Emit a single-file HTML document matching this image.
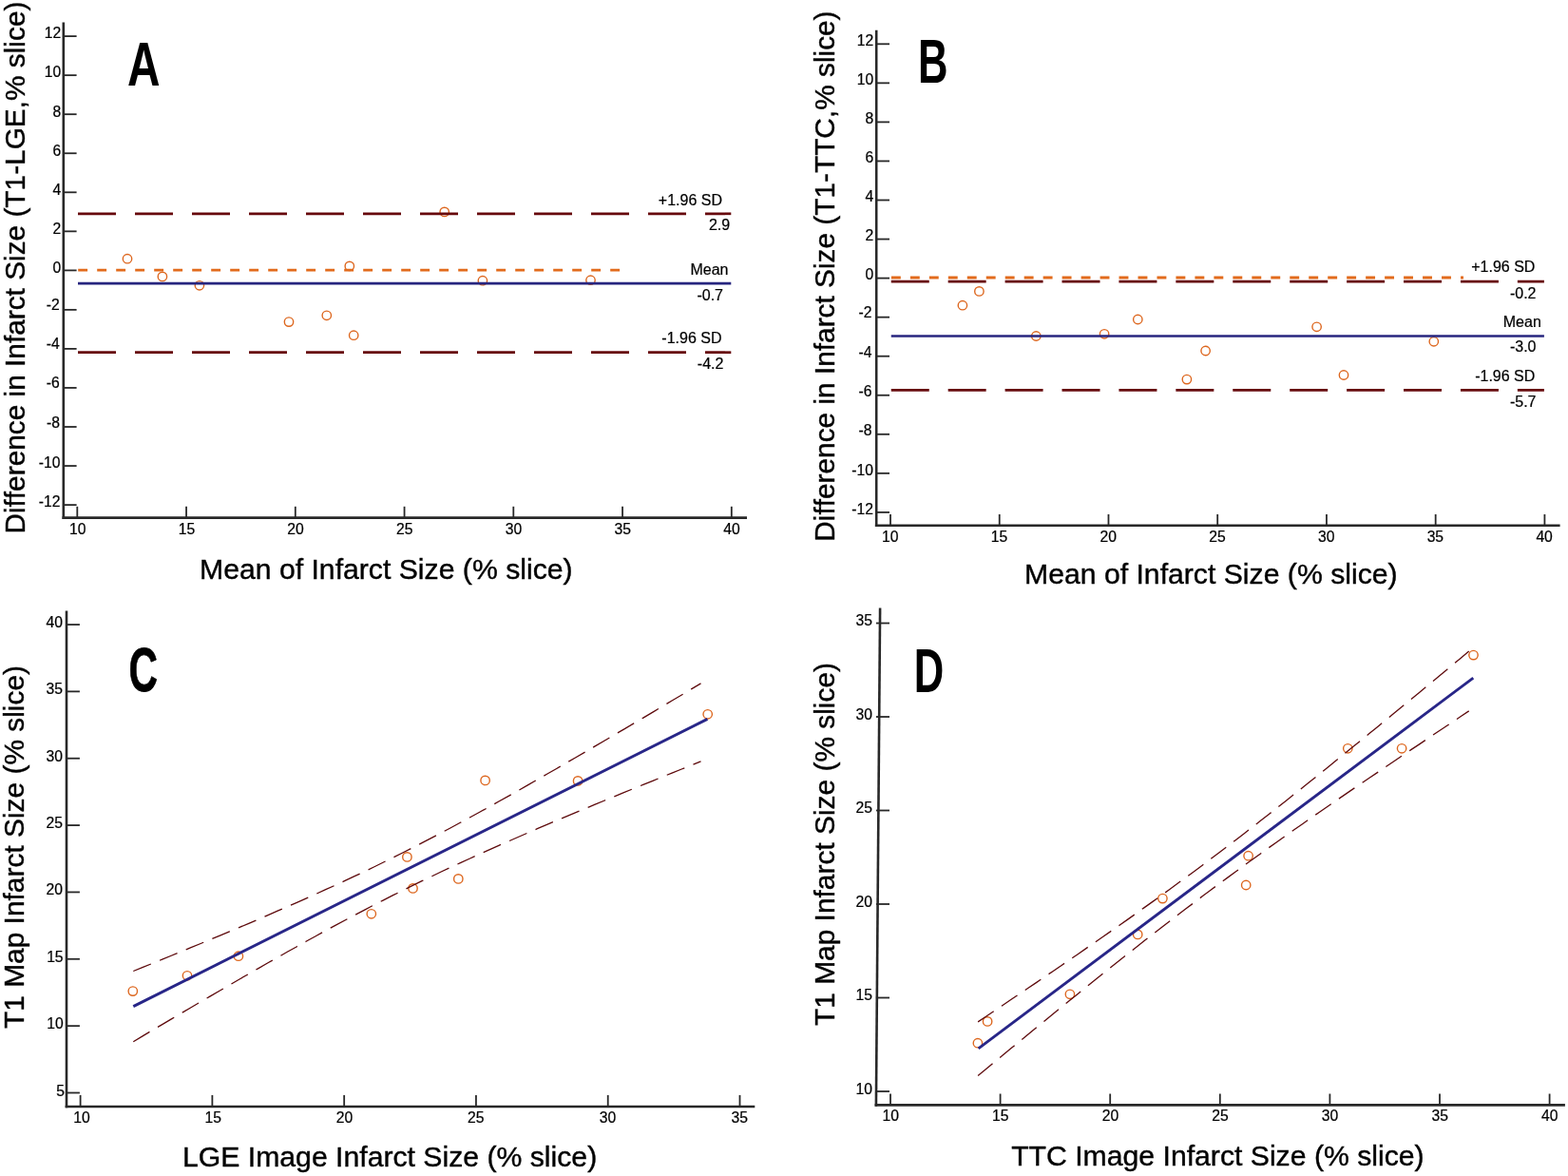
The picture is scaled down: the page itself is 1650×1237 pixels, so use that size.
<!DOCTYPE html>
<html lang="en">
<head>
<meta charset="utf-8">
<title>Infarct size agreement: Bland-Altman and regression plots</title>
<style>
html,body{margin:0;padding:0;background:#fff;}
body{width:1650px;height:1237px;overflow:hidden;}
svg{display:block;font-family:"Liberation Sans",Arial,Helvetica,sans-serif;font-variant-ligatures:none;font-kerning:none;}
</style>
</head>
<body>
<svg width="1650" height="1237" viewBox="0 0 1650 1237">
<rect x="0" y="0" width="1650" height="1237" fill="#fff"/>
<g>
<line x1="66.80" y1="23.60" x2="66.80" y2="545.90" stroke="#282828" stroke-width="2.6" stroke-linecap="butt"/>
<line x1="65.50" y1="544.60" x2="786.00" y2="544.60" stroke="#282828" stroke-width="2.6" stroke-linecap="butt"/>
<line x1="66.80" y1="38.10" x2="80.60" y2="38.10" stroke="#282828" stroke-width="1.8" stroke-linecap="butt"/>
<text x="64.20" y="40.00" font-size="15.7" text-anchor="end" font-weight="normal" fill="#000" stroke="#000" stroke-width="0.22">12</text>
<line x1="66.80" y1="79.15" x2="80.60" y2="79.15" stroke="#282828" stroke-width="1.8" stroke-linecap="butt"/>
<text x="64.20" y="81.05" font-size="15.7" text-anchor="end" font-weight="normal" fill="#000" stroke="#000" stroke-width="0.22">10</text>
<line x1="66.80" y1="120.20" x2="80.60" y2="120.20" stroke="#282828" stroke-width="1.8" stroke-linecap="butt"/>
<text x="64.20" y="122.50" font-size="15.7" text-anchor="end" font-weight="normal" fill="#000" stroke="#000" stroke-width="0.22">8</text>
<line x1="66.80" y1="161.25" x2="80.60" y2="161.25" stroke="#282828" stroke-width="1.8" stroke-linecap="butt"/>
<text x="64.20" y="163.55" font-size="15.7" text-anchor="end" font-weight="normal" fill="#000" stroke="#000" stroke-width="0.22">6</text>
<line x1="66.80" y1="202.30" x2="80.60" y2="202.30" stroke="#282828" stroke-width="1.8" stroke-linecap="butt"/>
<text x="64.20" y="204.60" font-size="15.7" text-anchor="end" font-weight="normal" fill="#000" stroke="#000" stroke-width="0.22">4</text>
<line x1="66.80" y1="243.35" x2="80.60" y2="243.35" stroke="#282828" stroke-width="1.8" stroke-linecap="butt"/>
<text x="64.20" y="245.65" font-size="15.7" text-anchor="end" font-weight="normal" fill="#000" stroke="#000" stroke-width="0.22">2</text>
<line x1="66.80" y1="284.40" x2="80.60" y2="284.40" stroke="#282828" stroke-width="1.8" stroke-linecap="butt"/>
<text x="64.20" y="286.70" font-size="15.7" text-anchor="end" font-weight="normal" fill="#000" stroke="#000" stroke-width="0.22">0</text>
<line x1="66.80" y1="325.85" x2="80.60" y2="325.85" stroke="#282828" stroke-width="1.8" stroke-linecap="butt"/>
<text x="62.80" y="326.35" font-size="15.7" text-anchor="end" font-weight="normal" fill="#000" stroke="#000" stroke-width="0.22">-2</text>
<line x1="66.80" y1="366.90" x2="80.60" y2="366.90" stroke="#282828" stroke-width="1.8" stroke-linecap="butt"/>
<text x="62.80" y="367.40" font-size="15.7" text-anchor="end" font-weight="normal" fill="#000" stroke="#000" stroke-width="0.22">-4</text>
<line x1="66.80" y1="407.95" x2="80.60" y2="407.95" stroke="#282828" stroke-width="1.8" stroke-linecap="butt"/>
<text x="62.80" y="408.45" font-size="15.7" text-anchor="end" font-weight="normal" fill="#000" stroke="#000" stroke-width="0.22">-6</text>
<line x1="66.80" y1="449.00" x2="80.60" y2="449.00" stroke="#282828" stroke-width="1.8" stroke-linecap="butt"/>
<text x="62.90" y="449.50" font-size="15.7" text-anchor="end" font-weight="normal" fill="#000" stroke="#000" stroke-width="0.22">-8</text>
<line x1="66.80" y1="490.05" x2="80.60" y2="490.05" stroke="#282828" stroke-width="1.8" stroke-linecap="butt"/>
<text x="63.50" y="492.05" font-size="15.7" text-anchor="end" font-weight="normal" fill="#000" stroke="#000" stroke-width="0.22">-10</text>
<line x1="66.80" y1="531.10" x2="80.60" y2="531.10" stroke="#282828" stroke-width="1.8" stroke-linecap="butt"/>
<text x="63.50" y="533.10" font-size="15.7" text-anchor="end" font-weight="normal" fill="#000" stroke="#000" stroke-width="0.22">-12</text>
<line x1="81.30" y1="532.80" x2="81.30" y2="544.60" stroke="#282828" stroke-width="1.8" stroke-linecap="butt"/>
<text x="81.70" y="561.50" font-size="15.7" text-anchor="middle" font-weight="normal" fill="#000" stroke="#000" stroke-width="0.22">10</text>
<line x1="196.05" y1="532.80" x2="196.05" y2="544.60" stroke="#282828" stroke-width="1.8" stroke-linecap="butt"/>
<text x="196.45" y="561.50" font-size="15.7" text-anchor="middle" font-weight="normal" fill="#000" stroke="#000" stroke-width="0.22">15</text>
<line x1="310.80" y1="532.80" x2="310.80" y2="544.60" stroke="#282828" stroke-width="1.8" stroke-linecap="butt"/>
<text x="310.90" y="561.50" font-size="15.7" text-anchor="middle" font-weight="normal" fill="#000" stroke="#000" stroke-width="0.22">20</text>
<line x1="425.55" y1="532.80" x2="425.55" y2="544.60" stroke="#282828" stroke-width="1.8" stroke-linecap="butt"/>
<text x="425.65" y="561.50" font-size="15.7" text-anchor="middle" font-weight="normal" fill="#000" stroke="#000" stroke-width="0.22">25</text>
<line x1="540.30" y1="532.80" x2="540.30" y2="544.60" stroke="#282828" stroke-width="1.8" stroke-linecap="butt"/>
<text x="540.40" y="561.50" font-size="15.7" text-anchor="middle" font-weight="normal" fill="#000" stroke="#000" stroke-width="0.22">30</text>
<line x1="655.05" y1="532.80" x2="655.05" y2="544.60" stroke="#282828" stroke-width="1.8" stroke-linecap="butt"/>
<text x="655.15" y="561.50" font-size="15.7" text-anchor="middle" font-weight="normal" fill="#000" stroke="#000" stroke-width="0.22">35</text>
<line x1="769.80" y1="532.80" x2="769.80" y2="544.60" stroke="#282828" stroke-width="1.8" stroke-linecap="butt"/>
<text x="769.90" y="561.50" font-size="15.7" text-anchor="middle" font-weight="normal" fill="#000" stroke="#000" stroke-width="0.22">40</text>
<text x="406.30" y="608.90" font-size="30.2" text-anchor="middle" font-weight="normal" fill="#000" stroke="#000" stroke-width="0.4">Mean of Infarct Size (% slice)</text>
<text x="0.00" y="0.00" font-size="29.82" text-anchor="middle" font-weight="normal" fill="#000" transform="translate(25.50,281.60) rotate(-90)" stroke="#000" stroke-width="0.4">Difference in Infarct Size (T1-LGE,% slice)</text>
<text x="0" y="0" font-size="65.0" font-weight="bold" fill="#000" transform="translate(133.90,89.90) scale(0.735,1)">A</text>
<circle cx="134.0" cy="272.2" r="4.7" fill="none" stroke="#dd671f" stroke-width="1.4"/>
<circle cx="170.9" cy="290.9" r="4.7" fill="none" stroke="#dd671f" stroke-width="1.4"/>
<circle cx="209.9" cy="300.3" r="4.7" fill="none" stroke="#dd671f" stroke-width="1.4"/>
<circle cx="304.0" cy="338.6" r="4.7" fill="none" stroke="#dd671f" stroke-width="1.4"/>
<circle cx="343.8" cy="331.8" r="4.7" fill="none" stroke="#dd671f" stroke-width="1.4"/>
<circle cx="367.8" cy="279.9" r="4.7" fill="none" stroke="#dd671f" stroke-width="1.4"/>
<circle cx="372.2" cy="352.7" r="4.7" fill="none" stroke="#dd671f" stroke-width="1.4"/>
<circle cx="467.7" cy="222.9" r="4.7" fill="none" stroke="#dd671f" stroke-width="1.4"/>
<circle cx="507.9" cy="295.2" r="4.7" fill="none" stroke="#dd671f" stroke-width="1.4"/>
<circle cx="621.5" cy="294.7" r="4.7" fill="none" stroke="#dd671f" stroke-width="1.4"/>
<line x1="82.20" y1="284.10" x2="652.20" y2="284.10" stroke="#e26b1c" stroke-width="2.9" stroke-dasharray="9.9 10.1" stroke-linecap="butt"/>
<line x1="82.00" y1="224.80" x2="769.30" y2="224.80" stroke="#670a0d" stroke-width="2.7" stroke-dasharray="40 20" stroke-linecap="butt"/>
<line x1="82.00" y1="370.70" x2="769.30" y2="370.70" stroke="#670a0d" stroke-width="2.7" stroke-dasharray="40 20" stroke-linecap="butt"/>
<line x1="82.00" y1="298.20" x2="769.30" y2="298.20" stroke="#27257f" stroke-width="2.7" stroke-linecap="butt"/>
<text x="760.00" y="215.60" font-size="16.0" text-anchor="end" font-weight="normal" fill="#000" stroke="#000" stroke-width="0.22">+1.96 SD</text>
<text x="768.20" y="242.00" font-size="16.0" text-anchor="end" font-weight="normal" fill="#000" stroke="#000" stroke-width="0.22">2.9</text>
<text x="766.50" y="288.90" font-size="16.0" text-anchor="end" font-weight="normal" fill="#000" stroke="#000" stroke-width="0.22">Mean</text>
<text x="761.00" y="315.80" font-size="16.0" text-anchor="end" font-weight="normal" fill="#000" stroke="#000" stroke-width="0.22">-0.7</text>
<text x="759.50" y="361.20" font-size="16.0" text-anchor="end" font-weight="normal" fill="#000" stroke="#000" stroke-width="0.22">-1.96 SD</text>
<text x="761.40" y="387.90" font-size="16.0" text-anchor="end" font-weight="normal" fill="#000" stroke="#000" stroke-width="0.22">-4.2</text>
</g><g>
<line x1="922.20" y1="31.80" x2="922.20" y2="554.10" stroke="#282828" stroke-width="2.6" stroke-linecap="butt"/>
<line x1="920.90" y1="552.80" x2="1641.60" y2="552.80" stroke="#282828" stroke-width="2.6" stroke-linecap="butt"/>
<line x1="922.20" y1="46.30" x2="936.00" y2="46.30" stroke="#282828" stroke-width="1.8" stroke-linecap="butt"/>
<text x="919.30" y="48.30" font-size="15.7" text-anchor="end" font-weight="normal" fill="#000" stroke="#000" stroke-width="0.22">12</text>
<line x1="922.20" y1="87.35" x2="936.00" y2="87.35" stroke="#282828" stroke-width="1.8" stroke-linecap="butt"/>
<text x="919.30" y="89.35" font-size="15.7" text-anchor="end" font-weight="normal" fill="#000" stroke="#000" stroke-width="0.22">10</text>
<line x1="922.20" y1="128.40" x2="936.00" y2="128.40" stroke="#282828" stroke-width="1.8" stroke-linecap="butt"/>
<text x="919.30" y="130.40" font-size="15.7" text-anchor="end" font-weight="normal" fill="#000" stroke="#000" stroke-width="0.22">8</text>
<line x1="922.20" y1="169.45" x2="936.00" y2="169.45" stroke="#282828" stroke-width="1.8" stroke-linecap="butt"/>
<text x="919.30" y="171.45" font-size="15.7" text-anchor="end" font-weight="normal" fill="#000" stroke="#000" stroke-width="0.22">6</text>
<line x1="922.20" y1="210.50" x2="936.00" y2="210.50" stroke="#282828" stroke-width="1.8" stroke-linecap="butt"/>
<text x="919.30" y="212.20" font-size="15.7" text-anchor="end" font-weight="normal" fill="#000" stroke="#000" stroke-width="0.22">4</text>
<line x1="922.20" y1="251.55" x2="936.00" y2="251.55" stroke="#282828" stroke-width="1.8" stroke-linecap="butt"/>
<text x="919.30" y="253.25" font-size="15.7" text-anchor="end" font-weight="normal" fill="#000" stroke="#000" stroke-width="0.22">2</text>
<line x1="922.20" y1="292.60" x2="936.00" y2="292.60" stroke="#282828" stroke-width="1.8" stroke-linecap="butt"/>
<text x="919.30" y="294.30" font-size="15.7" text-anchor="end" font-weight="normal" fill="#000" stroke="#000" stroke-width="0.22">0</text>
<line x1="922.20" y1="333.65" x2="936.00" y2="333.65" stroke="#282828" stroke-width="1.8" stroke-linecap="butt"/>
<text x="917.40" y="334.45" font-size="15.7" text-anchor="end" font-weight="normal" fill="#000" stroke="#000" stroke-width="0.22">-2</text>
<line x1="922.20" y1="374.70" x2="936.00" y2="374.70" stroke="#282828" stroke-width="1.8" stroke-linecap="butt"/>
<text x="917.40" y="375.50" font-size="15.7" text-anchor="end" font-weight="normal" fill="#000" stroke="#000" stroke-width="0.22">-4</text>
<line x1="922.20" y1="415.75" x2="936.00" y2="415.75" stroke="#282828" stroke-width="1.8" stroke-linecap="butt"/>
<text x="917.40" y="416.55" font-size="15.7" text-anchor="end" font-weight="normal" fill="#000" stroke="#000" stroke-width="0.22">-6</text>
<line x1="922.20" y1="456.80" x2="936.00" y2="456.80" stroke="#282828" stroke-width="1.8" stroke-linecap="butt"/>
<text x="917.40" y="457.60" font-size="15.7" text-anchor="end" font-weight="normal" fill="#000" stroke="#000" stroke-width="0.22">-8</text>
<line x1="922.20" y1="497.85" x2="936.00" y2="497.85" stroke="#282828" stroke-width="1.8" stroke-linecap="butt"/>
<text x="918.90" y="499.85" font-size="15.7" text-anchor="end" font-weight="normal" fill="#000" stroke="#000" stroke-width="0.22">-10</text>
<line x1="922.20" y1="538.90" x2="936.00" y2="538.90" stroke="#282828" stroke-width="1.8" stroke-linecap="butt"/>
<text x="918.90" y="540.90" font-size="15.7" text-anchor="end" font-weight="normal" fill="#000" stroke="#000" stroke-width="0.22">-12</text>
<line x1="937.00" y1="541.00" x2="937.00" y2="552.80" stroke="#282828" stroke-width="1.8" stroke-linecap="butt"/>
<text x="936.70" y="569.90" font-size="15.7" text-anchor="middle" font-weight="normal" fill="#000" stroke="#000" stroke-width="0.22">10</text>
<line x1="1051.73" y1="541.00" x2="1051.73" y2="552.80" stroke="#282828" stroke-width="1.8" stroke-linecap="butt"/>
<text x="1051.43" y="569.90" font-size="15.7" text-anchor="middle" font-weight="normal" fill="#000" stroke="#000" stroke-width="0.22">15</text>
<line x1="1166.47" y1="541.00" x2="1166.47" y2="552.80" stroke="#282828" stroke-width="1.8" stroke-linecap="butt"/>
<text x="1166.17" y="569.90" font-size="15.7" text-anchor="middle" font-weight="normal" fill="#000" stroke="#000" stroke-width="0.22">20</text>
<line x1="1281.20" y1="541.00" x2="1281.20" y2="552.80" stroke="#282828" stroke-width="1.8" stroke-linecap="butt"/>
<text x="1280.90" y="569.90" font-size="15.7" text-anchor="middle" font-weight="normal" fill="#000" stroke="#000" stroke-width="0.22">25</text>
<line x1="1395.94" y1="541.00" x2="1395.94" y2="552.80" stroke="#282828" stroke-width="1.8" stroke-linecap="butt"/>
<text x="1395.64" y="569.90" font-size="15.7" text-anchor="middle" font-weight="normal" fill="#000" stroke="#000" stroke-width="0.22">30</text>
<line x1="1510.67" y1="541.00" x2="1510.67" y2="552.80" stroke="#282828" stroke-width="1.8" stroke-linecap="butt"/>
<text x="1510.38" y="569.90" font-size="15.7" text-anchor="middle" font-weight="normal" fill="#000" stroke="#000" stroke-width="0.22">35</text>
<line x1="1625.41" y1="541.00" x2="1625.41" y2="552.80" stroke="#282828" stroke-width="1.8" stroke-linecap="butt"/>
<text x="1625.11" y="569.90" font-size="15.7" text-anchor="middle" font-weight="normal" fill="#000" stroke="#000" stroke-width="0.22">40</text>
<text x="1274.30" y="613.70" font-size="30.2" text-anchor="middle" font-weight="normal" fill="#000" stroke="#000" stroke-width="0.4">Mean of Infarct Size (% slice)</text>
<text x="0.00" y="0.00" font-size="29.82" text-anchor="middle" font-weight="normal" fill="#000" transform="translate(878.20,290.60) rotate(-90)" stroke="#000" stroke-width="0.4">Difference in Infarct Size (T1-TTC,% slice)</text>
<text x="0" y="0" font-size="64.8" font-weight="bold" fill="#000" transform="translate(965.90,86.90) scale(0.673,1)">B</text>
<circle cx="1012.9" cy="321.2" r="4.7" fill="none" stroke="#dd671f" stroke-width="1.4"/>
<circle cx="1030.4" cy="306.4" r="4.7" fill="none" stroke="#dd671f" stroke-width="1.4"/>
<circle cx="1090.3" cy="353.5" r="4.7" fill="none" stroke="#dd671f" stroke-width="1.4"/>
<circle cx="1162.1" cy="351.3" r="4.7" fill="none" stroke="#dd671f" stroke-width="1.4"/>
<circle cx="1197.3" cy="336.0" r="4.7" fill="none" stroke="#dd671f" stroke-width="1.4"/>
<circle cx="1248.9" cy="399.1" r="4.7" fill="none" stroke="#dd671f" stroke-width="1.4"/>
<circle cx="1268.6" cy="369.0" r="4.7" fill="none" stroke="#dd671f" stroke-width="1.4"/>
<circle cx="1385.6" cy="343.8" r="4.7" fill="none" stroke="#dd671f" stroke-width="1.4"/>
<circle cx="1414.0" cy="394.5" r="4.7" fill="none" stroke="#dd671f" stroke-width="1.4"/>
<circle cx="1508.8" cy="359.3" r="4.7" fill="none" stroke="#dd671f" stroke-width="1.4"/>
<line x1="937.90" y1="292.00" x2="1540.00" y2="292.00" stroke="#e26b1c" stroke-width="2.9" stroke-dasharray="9.9 10.07" stroke-linecap="butt"/>
<line x1="937.75" y1="296.20" x2="1624.90" y2="296.20" stroke="#670a0d" stroke-width="2.7" stroke-dasharray="40 19.92" stroke-linecap="butt"/>
<line x1="937.75" y1="410.40" x2="1624.90" y2="410.40" stroke="#670a0d" stroke-width="2.7" stroke-dasharray="40 19.92" stroke-linecap="butt"/>
<line x1="937.75" y1="353.50" x2="1624.90" y2="353.50" stroke="#27257f" stroke-width="2.7" stroke-linecap="butt"/>
<text x="1615.40" y="286.10" font-size="16.0" text-anchor="end" font-weight="normal" fill="#000" stroke="#000" stroke-width="0.22">+1.96 SD</text>
<text x="1616.50" y="313.70" font-size="16.0" text-anchor="end" font-weight="normal" fill="#000" stroke="#000" stroke-width="0.22">-0.2</text>
<text x="1621.80" y="343.50" font-size="16.0" text-anchor="end" font-weight="normal" fill="#000" stroke="#000" stroke-width="0.22">Mean</text>
<text x="1616.50" y="370.20" font-size="16.0" text-anchor="end" font-weight="normal" fill="#000" stroke="#000" stroke-width="0.22">-3.0</text>
<text x="1615.30" y="401.00" font-size="16.0" text-anchor="end" font-weight="normal" fill="#000" stroke="#000" stroke-width="0.22">-1.96 SD</text>
<text x="1616.50" y="428.00" font-size="16.0" text-anchor="end" font-weight="normal" fill="#000" stroke="#000" stroke-width="0.22">-5.7</text>
</g>
<g>
<line x1="70.00" y1="642.40" x2="70.00" y2="1165.30" stroke="#282828" stroke-width="2.6" stroke-linecap="butt"/>
<line x1="68.70" y1="1164.00" x2="794.30" y2="1164.00" stroke="#282828" stroke-width="2.6" stroke-linecap="butt"/>
<line x1="70.00" y1="657.01" x2="83.90" y2="657.01" stroke="#282828" stroke-width="1.8" stroke-linecap="butt"/>
<text x="65.90" y="659.91" font-size="15.7" text-anchor="end" font-weight="normal" fill="#000" stroke="#000" stroke-width="0.22">40</text>
<line x1="70.00" y1="727.37" x2="83.90" y2="727.37" stroke="#282828" stroke-width="1.8" stroke-linecap="butt"/>
<text x="65.90" y="730.27" font-size="15.7" text-anchor="end" font-weight="normal" fill="#000" stroke="#000" stroke-width="0.22">35</text>
<line x1="70.00" y1="797.73" x2="83.90" y2="797.73" stroke="#282828" stroke-width="1.8" stroke-linecap="butt"/>
<text x="65.90" y="800.62" font-size="15.7" text-anchor="end" font-weight="normal" fill="#000" stroke="#000" stroke-width="0.22">30</text>
<line x1="70.00" y1="868.08" x2="83.90" y2="868.08" stroke="#282828" stroke-width="1.8" stroke-linecap="butt"/>
<text x="65.90" y="870.98" font-size="15.7" text-anchor="end" font-weight="normal" fill="#000" stroke="#000" stroke-width="0.22">25</text>
<line x1="70.00" y1="938.43" x2="83.90" y2="938.43" stroke="#282828" stroke-width="1.8" stroke-linecap="butt"/>
<text x="65.90" y="941.33" font-size="15.7" text-anchor="end" font-weight="normal" fill="#000" stroke="#000" stroke-width="0.22">20</text>
<line x1="70.00" y1="1008.79" x2="83.90" y2="1008.79" stroke="#282828" stroke-width="1.8" stroke-linecap="butt"/>
<text x="66.60" y="1011.69" font-size="15.7" text-anchor="end" font-weight="normal" fill="#000" stroke="#000" stroke-width="0.22">15</text>
<line x1="70.00" y1="1079.14" x2="83.90" y2="1079.14" stroke="#282828" stroke-width="1.8" stroke-linecap="butt"/>
<text x="66.70" y="1082.05" font-size="15.7" text-anchor="end" font-weight="normal" fill="#000" stroke="#000" stroke-width="0.22">10</text>
<line x1="70.00" y1="1149.50" x2="83.90" y2="1149.50" stroke="#282828" stroke-width="1.8" stroke-linecap="butt"/>
<text x="67.90" y="1152.90" font-size="15.7" text-anchor="end" font-weight="normal" fill="#000" stroke="#000" stroke-width="0.22">5</text>
<line x1="84.60" y1="1151.90" x2="84.60" y2="1164.00" stroke="#282828" stroke-width="1.8" stroke-linecap="butt"/>
<text x="85.90" y="1180.90" font-size="15.7" text-anchor="middle" font-weight="normal" fill="#000" stroke="#000" stroke-width="0.22">10</text>
<line x1="223.38" y1="1151.90" x2="223.38" y2="1164.00" stroke="#282828" stroke-width="1.8" stroke-linecap="butt"/>
<text x="224.18" y="1180.90" font-size="15.7" text-anchor="middle" font-weight="normal" fill="#000" stroke="#000" stroke-width="0.22">15</text>
<line x1="362.16" y1="1151.90" x2="362.16" y2="1164.00" stroke="#282828" stroke-width="1.8" stroke-linecap="butt"/>
<text x="362.46" y="1180.90" font-size="15.7" text-anchor="middle" font-weight="normal" fill="#000" stroke="#000" stroke-width="0.22">20</text>
<line x1="500.94" y1="1151.90" x2="500.94" y2="1164.00" stroke="#282828" stroke-width="1.8" stroke-linecap="butt"/>
<text x="500.74" y="1180.90" font-size="15.7" text-anchor="middle" font-weight="normal" fill="#000" stroke="#000" stroke-width="0.22">25</text>
<line x1="639.72" y1="1151.90" x2="639.72" y2="1164.00" stroke="#282828" stroke-width="1.8" stroke-linecap="butt"/>
<text x="639.52" y="1180.90" font-size="15.7" text-anchor="middle" font-weight="normal" fill="#000" stroke="#000" stroke-width="0.22">30</text>
<line x1="778.50" y1="1151.90" x2="778.50" y2="1164.00" stroke="#282828" stroke-width="1.8" stroke-linecap="butt"/>
<text x="778.30" y="1180.90" font-size="15.7" text-anchor="middle" font-weight="normal" fill="#000" stroke="#000" stroke-width="0.22">35</text>
<text x="410.10" y="1227.30" font-size="30.2" text-anchor="middle" font-weight="normal" fill="#000" stroke="#000" stroke-width="0.4">LGE Image Infarct Size (% slice)</text>
<text x="0.00" y="0.00" font-size="29.9" text-anchor="middle" font-weight="normal" fill="#000" transform="translate(25.30,891.00) rotate(-90)" stroke="#000" stroke-width="0.4">T1 Map Infarct Size (% slice)</text>
<text x="0" y="0" font-size="64.4" font-weight="bold" fill="#000" stroke="#000" stroke-width="0.76" stroke-linejoin="round" transform="translate(135.40,726.80) scale(0.655,1)">C</text>
<circle cx="139.8" cy="1042.6" r="4.7" fill="none" stroke="#dd671f" stroke-width="1.4"/>
<circle cx="197.0" cy="1026.3" r="4.7" fill="none" stroke="#dd671f" stroke-width="1.4"/>
<circle cx="250.9" cy="1005.7" r="4.7" fill="none" stroke="#dd671f" stroke-width="1.4"/>
<circle cx="390.8" cy="961.3" r="4.7" fill="none" stroke="#dd671f" stroke-width="1.4"/>
<circle cx="428.4" cy="901.4" r="4.7" fill="none" stroke="#dd671f" stroke-width="1.4"/>
<circle cx="434.5" cy="934.4" r="4.7" fill="none" stroke="#dd671f" stroke-width="1.4"/>
<circle cx="482.3" cy="924.4" r="4.7" fill="none" stroke="#dd671f" stroke-width="1.4"/>
<circle cx="510.6" cy="820.9" r="4.7" fill="none" stroke="#dd671f" stroke-width="1.4"/>
<circle cx="608.1" cy="821.4" r="4.7" fill="none" stroke="#dd671f" stroke-width="1.4"/>
<circle cx="744.7" cy="751.3" r="4.7" fill="none" stroke="#dd671f" stroke-width="1.4"/>
<path d="M140.3,1021.5 L150.4,1017.4 L160.5,1013.3 L170.7,1009.2 L180.8,1005.0 L190.9,1000.9 L201.0,996.7 L211.2,992.5 L221.3,988.3 L231.4,984.1 L241.5,979.9 L251.6,975.6 L261.8,971.3 L271.9,967.0 L282.0,962.6 L292.1,958.2 L302.3,953.8 L312.4,949.4 L322.5,944.9 L332.6,940.3 L342.7,935.7 L352.9,931.1 L363.0,926.4 L373.1,921.7 L383.2,916.9 L393.4,912.0 L403.5,907.0 L413.6,902.0 L423.7,897.0 L433.8,891.9 L444.0,886.7 L454.1,881.4 L464.2,876.1 L474.3,870.7 L484.4,865.3 L494.6,859.8 L504.7,854.3 L514.8,848.7 L524.9,843.0 L535.1,837.4 L545.2,831.7 L555.3,825.9 L565.4,820.1 L575.5,814.3 L585.7,808.5 L595.8,802.6 L605.9,796.8 L616.0,790.9 L626.2,784.9 L636.3,779.0 L646.4,773.0 L656.5,767.1 L666.6,761.1 L676.8,755.1 L686.9,749.1 L697.0,743.1 L707.1,737.0 L717.3,731.0 L727.4,724.9 L737.5,718.9" fill="none" stroke="#5e0a0c" stroke-width="1.3" stroke-dasharray="20 9.93"/>
<path d="M140.3,1095.7 L150.4,1089.6 L160.5,1083.6 L170.7,1077.6 L180.8,1071.6 L190.9,1065.7 L201.0,1059.7 L211.2,1053.8 L221.3,1047.9 L231.4,1042.0 L241.5,1036.1 L251.6,1030.2 L261.8,1024.4 L271.9,1018.6 L282.0,1012.8 L292.1,1007.1 L302.3,1001.3 L312.4,995.7 L322.5,990.0 L332.6,984.5 L342.7,978.9 L352.9,973.4 L363.0,968.0 L373.1,962.6 L383.2,957.3 L393.4,952.0 L403.5,946.8 L413.6,941.7 L423.7,936.7 L433.8,931.7 L444.0,926.7 L454.1,921.9 L464.2,917.0 L474.3,912.3 L484.4,907.6 L494.6,903.0 L504.7,898.4 L514.8,893.8 L524.9,889.3 L535.1,884.9 L545.2,880.5 L555.3,876.1 L565.4,871.7 L575.5,867.4 L585.7,863.1 L595.8,858.8 L605.9,854.6 L616.0,850.4 L626.2,846.2 L636.3,842.0 L646.4,837.8 L656.5,833.7 L666.6,829.5 L676.8,825.4 L686.9,821.3 L697.0,817.2 L707.1,813.1 L717.3,809.0 L727.4,804.9 L737.5,800.8" fill="none" stroke="#5e0a0c" stroke-width="1.3" stroke-dasharray="20 9.93"/>
<line x1="140.30" y1="1058.60" x2="744.40" y2="756.40" stroke="#282688" stroke-width="2.9" stroke-linecap="butt"/>
</g><g>
<line x1="926.10" y1="639.50" x2="921.90" y2="1163.70" stroke="#282828" stroke-width="2.6" stroke-linecap="butt"/>
<line x1="920.60" y1="1162.40" x2="1646.90" y2="1162.40" stroke="#282828" stroke-width="2.6" stroke-linecap="butt"/>
<line x1="921.90" y1="655.50" x2="936.00" y2="655.50" stroke="#282828" stroke-width="1.8" stroke-linecap="butt"/>
<text x="917.90" y="658.30" font-size="15.7" text-anchor="end" font-weight="normal" fill="#000" stroke="#000" stroke-width="0.22">35</text>
<line x1="921.90" y1="754.00" x2="936.00" y2="754.00" stroke="#282828" stroke-width="1.8" stroke-linecap="butt"/>
<text x="917.90" y="756.80" font-size="15.7" text-anchor="end" font-weight="normal" fill="#000" stroke="#000" stroke-width="0.22">30</text>
<line x1="921.90" y1="852.50" x2="936.00" y2="852.50" stroke="#282828" stroke-width="1.8" stroke-linecap="butt"/>
<text x="917.90" y="855.30" font-size="15.7" text-anchor="end" font-weight="normal" fill="#000" stroke="#000" stroke-width="0.22">25</text>
<line x1="921.90" y1="951.00" x2="936.00" y2="951.00" stroke="#282828" stroke-width="1.8" stroke-linecap="butt"/>
<text x="917.90" y="953.80" font-size="15.7" text-anchor="end" font-weight="normal" fill="#000" stroke="#000" stroke-width="0.22">20</text>
<line x1="921.90" y1="1049.50" x2="936.00" y2="1049.50" stroke="#282828" stroke-width="1.8" stroke-linecap="butt"/>
<text x="917.90" y="1052.30" font-size="15.7" text-anchor="end" font-weight="normal" fill="#000" stroke="#000" stroke-width="0.22">15</text>
<line x1="921.90" y1="1148.00" x2="936.00" y2="1148.00" stroke="#282828" stroke-width="1.8" stroke-linecap="butt"/>
<text x="917.90" y="1150.80" font-size="15.7" text-anchor="end" font-weight="normal" fill="#000" stroke="#000" stroke-width="0.22">10</text>
<line x1="937.00" y1="1150.50" x2="937.00" y2="1162.40" stroke="#282828" stroke-width="1.8" stroke-linecap="butt"/>
<text x="937.20" y="1178.90" font-size="15.7" text-anchor="middle" font-weight="normal" fill="#000" stroke="#000" stroke-width="0.22">10</text>
<line x1="1052.60" y1="1150.50" x2="1052.60" y2="1162.40" stroke="#282828" stroke-width="1.8" stroke-linecap="butt"/>
<text x="1052.80" y="1178.90" font-size="15.7" text-anchor="middle" font-weight="normal" fill="#000" stroke="#000" stroke-width="0.22">15</text>
<line x1="1168.20" y1="1150.50" x2="1168.20" y2="1162.40" stroke="#282828" stroke-width="1.8" stroke-linecap="butt"/>
<text x="1168.40" y="1178.90" font-size="15.7" text-anchor="middle" font-weight="normal" fill="#000" stroke="#000" stroke-width="0.22">20</text>
<line x1="1283.80" y1="1150.50" x2="1283.80" y2="1162.40" stroke="#282828" stroke-width="1.8" stroke-linecap="butt"/>
<text x="1284.00" y="1178.90" font-size="15.7" text-anchor="middle" font-weight="normal" fill="#000" stroke="#000" stroke-width="0.22">25</text>
<line x1="1399.40" y1="1150.50" x2="1399.40" y2="1162.40" stroke="#282828" stroke-width="1.8" stroke-linecap="butt"/>
<text x="1399.60" y="1178.90" font-size="15.7" text-anchor="middle" font-weight="normal" fill="#000" stroke="#000" stroke-width="0.22">30</text>
<line x1="1515.00" y1="1150.50" x2="1515.00" y2="1162.40" stroke="#282828" stroke-width="1.8" stroke-linecap="butt"/>
<text x="1515.20" y="1178.90" font-size="15.7" text-anchor="middle" font-weight="normal" fill="#000" stroke="#000" stroke-width="0.22">35</text>
<line x1="1630.60" y1="1150.50" x2="1630.60" y2="1162.40" stroke="#282828" stroke-width="1.8" stroke-linecap="butt"/>
<text x="1630.80" y="1178.90" font-size="15.7" text-anchor="middle" font-weight="normal" fill="#000" stroke="#000" stroke-width="0.22">40</text>
<text x="1281.40" y="1225.70" font-size="30.2" text-anchor="middle" font-weight="normal" fill="#000" stroke="#000" stroke-width="0.4">TTC Image Infarct Size (% slice)</text>
<text x="0.00" y="0.00" font-size="29.9" text-anchor="middle" font-weight="normal" fill="#000" transform="translate(878.30,888.00) rotate(-90)" stroke="#000" stroke-width="0.4">T1 Map Infarct Size (% slice)</text>
<text x="0" y="0" font-size="64.8" font-weight="bold" fill="#000" transform="translate(961.80,728.30) scale(0.673,1)">D</text>
<circle cx="1028.9" cy="1097.2" r="4.7" fill="none" stroke="#dd671f" stroke-width="1.4"/>
<circle cx="1039.1" cy="1074.4" r="4.7" fill="none" stroke="#dd671f" stroke-width="1.4"/>
<circle cx="1125.9" cy="1045.8" r="4.7" fill="none" stroke="#dd671f" stroke-width="1.4"/>
<circle cx="1197.2" cy="982.9" r="4.7" fill="none" stroke="#dd671f" stroke-width="1.4"/>
<circle cx="1223.4" cy="945.1" r="4.7" fill="none" stroke="#dd671f" stroke-width="1.4"/>
<circle cx="1311.2" cy="931.0" r="4.7" fill="none" stroke="#dd671f" stroke-width="1.4"/>
<circle cx="1313.6" cy="900.2" r="4.7" fill="none" stroke="#dd671f" stroke-width="1.4"/>
<circle cx="1418.3" cy="787.3" r="4.7" fill="none" stroke="#dd671f" stroke-width="1.4"/>
<circle cx="1475.1" cy="787.3" r="4.7" fill="none" stroke="#dd671f" stroke-width="1.4"/>
<circle cx="1550.5" cy="689.1" r="4.7" fill="none" stroke="#dd671f" stroke-width="1.4"/>
<path d="M1029.1,1074.9 L1037.9,1069.0 L1046.6,1063.1 L1055.4,1057.2 L1064.1,1051.3 L1072.9,1045.4 L1081.6,1039.5 L1090.4,1033.6 L1099.1,1027.6 L1107.9,1021.7 L1116.7,1015.7 L1125.4,1009.7 L1134.2,1003.7 L1142.9,997.6 L1151.7,991.6 L1160.4,985.5 L1169.2,979.4 L1178.0,973.2 L1186.7,967.1 L1195.5,960.9 L1204.2,954.6 L1213.0,948.4 L1221.7,942.1 L1230.5,935.7 L1239.2,929.3 L1248.0,922.9 L1256.8,916.4 L1265.5,909.9 L1274.3,903.3 L1283.0,896.7 L1291.8,890.1 L1300.5,883.4 L1309.3,876.7 L1318.0,869.9 L1326.8,863.1 L1335.6,856.2 L1344.3,849.3 L1353.1,842.4 L1361.8,835.5 L1370.6,828.5 L1379.3,821.5 L1388.1,814.5 L1396.8,807.4 L1405.6,800.3 L1414.4,793.2 L1423.1,786.1 L1431.9,779.0 L1440.6,771.8 L1449.4,764.7 L1458.1,757.5 L1466.9,750.3 L1475.7,743.1 L1484.4,735.9 L1493.2,728.7 L1501.9,721.4 L1510.7,714.2 L1519.4,706.9 L1528.2,699.7 L1536.9,692.4 L1545.7,685.1" fill="none" stroke="#5e0a0c" stroke-width="1.3" stroke-dasharray="20 9.93"/>
<path d="M1029.1,1131.5 L1037.9,1124.3 L1046.6,1117.0 L1055.4,1109.8 L1064.1,1102.6 L1072.9,1095.4 L1081.6,1088.2 L1090.4,1081.0 L1099.1,1073.9 L1107.9,1066.7 L1116.7,1059.6 L1125.4,1052.5 L1134.2,1045.4 L1142.9,1038.3 L1151.7,1031.3 L1160.4,1024.3 L1169.2,1017.3 L1178.0,1010.3 L1186.7,1003.4 L1195.5,996.5 L1204.2,989.6 L1213.0,982.8 L1221.7,976.0 L1230.5,969.2 L1239.2,962.5 L1248.0,955.8 L1256.8,949.2 L1265.5,942.6 L1274.3,936.0 L1283.0,929.5 L1291.8,923.1 L1300.5,916.7 L1309.3,910.3 L1318.0,904.0 L1326.8,897.7 L1335.6,891.4 L1344.3,885.2 L1353.1,879.0 L1361.8,872.8 L1370.6,866.7 L1379.3,860.6 L1388.1,854.5 L1396.8,848.5 L1405.6,842.4 L1414.4,836.4 L1423.1,830.4 L1431.9,824.5 L1440.6,818.5 L1449.4,812.6 L1458.1,806.6 L1466.9,800.7 L1475.7,794.8 L1484.4,788.9 L1493.2,783.1 L1501.9,777.2 L1510.7,771.3 L1519.4,765.5 L1528.2,759.6 L1536.9,753.8 L1545.7,747.9" fill="none" stroke="#5e0a0c" stroke-width="1.3" stroke-dasharray="20 9.93"/>
<line x1="1029.60" y1="1102.80" x2="1550.30" y2="713.10" stroke="#282688" stroke-width="2.9" stroke-linecap="butt"/>
</g>
</svg>
</body>
</html>
